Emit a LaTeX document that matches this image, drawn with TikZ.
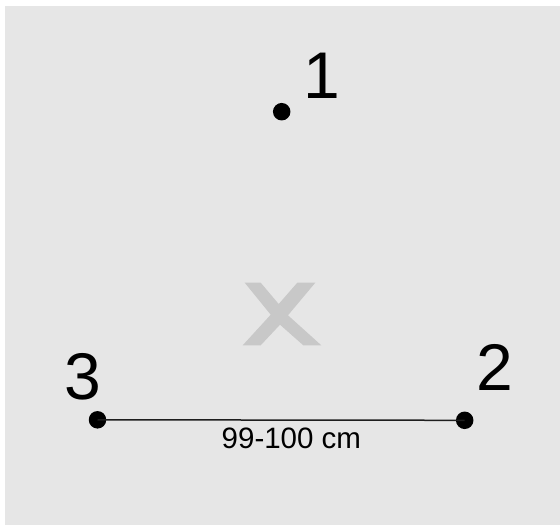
\documentclass[tikz,border=0pt]{standalone}
\usepackage{fontspec}
\setmainfont{Liberation Sans}
\definecolor{bggray}{RGB}{230,230,230}
\definecolor{xgray}{RGB}{200,200,200}
\definecolor{linecol}{RGB}{30,30,30}
\tikzset{
  dot/.style={circle,fill=black,inner sep=0pt,minimum size=17.5pt},
  bignum/.style={anchor=base west,inner sep=0pt,font=\fontsize{66}{66}\selectfont},
  dimlabel/.style={anchor=base west,inner sep=0pt,font=\fontsize{29.5}{29.5}\selectfont},
}
\begin{document}
\begin{tikzpicture}[x=1pt,y=-1pt]
\useasboundingbox (0,0) rectangle (560,525);
\fill[bggray] (5,6) rectangle (560,525);
% big grey x
\fill[xgray] (244.7,282.7) -- (260.7,282.7) -- (278.7,304) -- (297.3,282.7) -- (315.3,282.7)
  -- (288,315.3) -- (321.3,345.3) -- (303.3,345.3) -- (280,324.7) -- (260.7,345.3)
  -- (242.7,345.3) -- (270.7,314.7) -- cycle;
\node[dot] (p1) at (281.7,111.7) {};
\node[dot] (p2) at (464.7,420.3) {};
\node[dot] (p3) at (97.5,419.8) {};
\draw[linecol,line width=1.5pt] (p3.center) -- (p2.center);
\node[bignum] (l1) at (303,98) {1};
\node[bignum] (l2) at (476,390) {2};
\node[bignum] (l3) at (64.2,399) {3};
\node[dimlabel] (dim) at (221.5,448) {99-100 cm};
\end{tikzpicture}
\end{document}
